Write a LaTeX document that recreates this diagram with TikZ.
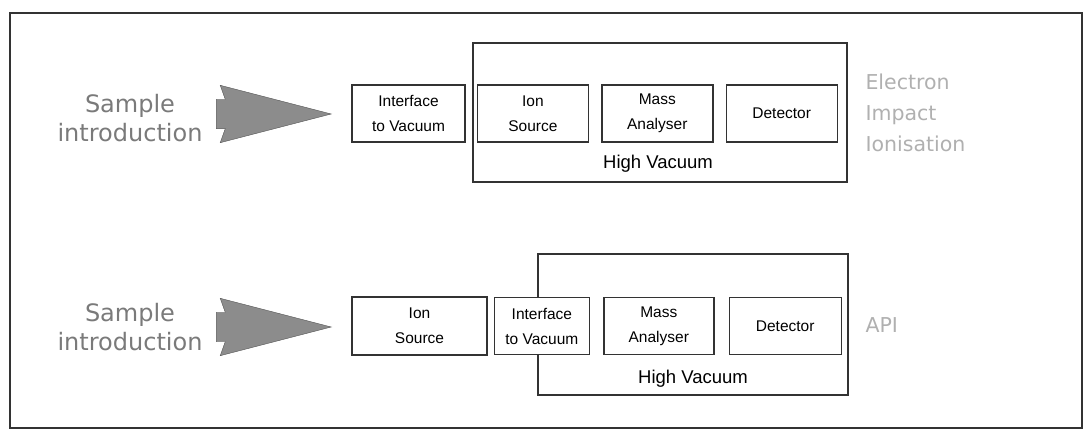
\documentclass[tikz,border=0pt]{standalone}
\usepackage{fontspec}
\setmainfont{Liberation Sans}
\newfontfamily\labelfont{DejaVu Sans}
\usetikzlibrary{positioning,shapes.arrows}
\definecolor{inkgray}{HTML}{333333}
\definecolor{feedgray}{HTML}{7A7A7A}
\definecolor{modegray}{HTML}{B0B0B0}
\definecolor{arrowgray}{HTML}{8C8C8C}
\tikzset{%
	part/.style     = {draw=inkgray, line width=1.4pt, fill=white, rectangle, minimum height=57pt, minimum width=111pt, align=center, inner sep=0pt, font=\fontsize{15.5}{25}\selectfont}, % component box
	chamber/.style  = {draw=inkgray, line width=2pt, rectangle, inner sep=0pt}, % vacuum region
	vaclabel/.style = {inner sep=0pt, font=\fontsize{18.5}{22}\selectfont}, % region name
	feed/.style     = {text=feedgray, align=center, font=\labelfont\fontsize{24}{29}\selectfont}, % sample text
	mode/.style     = {text=modegray, align=left, anchor=west, font=\labelfont\fontsize{20.5}{31}\selectfont}, % ionisation mode
	inlet/.style    = {single arrow, draw=arrowgray!60!black, fill=arrowgray, inner xsep=0pt, inner ysep=14.5pt, minimum height=115pt, single arrow head extend=14pt, single arrow tip angle=29, single arrow head indent=5pt, anchor=tip}, % block arrow
}
\begin{document}
\begin{tikzpicture}[x=1pt,y=-1pt]
	\useasboundingbox (0,0) rectangle (1087,430);
	\draw[inkgray, line width=1.2pt] (10,13) rectangle (1082,428);
	
	% electron impact
	\node [chamber, minimum width=374pt, minimum height=139pt] (HV1) at (660,112.5) {};
	\node [feed] (S1) at (130,118) {Sample\\introduction};
	\node [inlet] (A1) at (332,114) {};
	\node [part, minimum width=113pt] (I1) at (408.5,113.5) {Interface\\to Vacuum};
	\node [part, right=11pt of I1] (IS1) {Ion\\Source};
	\node [part, right=12pt of IS1] (MA1) {Mass\\Analyser};
	\node [part, right=12pt of MA1] (D1) {Detector};
	\node [vaclabel] (V1) at (658,164) {High Vacuum};
	\node [mode] (EI) at (862,113) {Electron\\Impact\\Ionisation};
	
	% API
	\node [chamber, minimum width=310pt, minimum height=141pt] (HV2) at (693,324.5) {};
	\node [feed] (S2) at (130,327) {Sample\\introduction};
	\node [inlet] (A2) at (332,327) {};
	\node [part, minimum width=135pt, minimum height=58pt] (IS2) at (419.5,326) {Ion\\Source};
	\node [part, minimum width=95pt, right=6pt of IS2] (I2) {Interface\\to Vacuum};
	\node [part, minimum width=110pt, right=13pt of I2] (MA2) {Mass\\Analyser};
	\node [part, minimum width=112pt, right=14pt of MA2] (D2) {Detector};
	\node [vaclabel] (V2) at (693,379) {High Vacuum};
	\node [mode] (API) at (862,325) {API};
\end{tikzpicture}
\end{document}
